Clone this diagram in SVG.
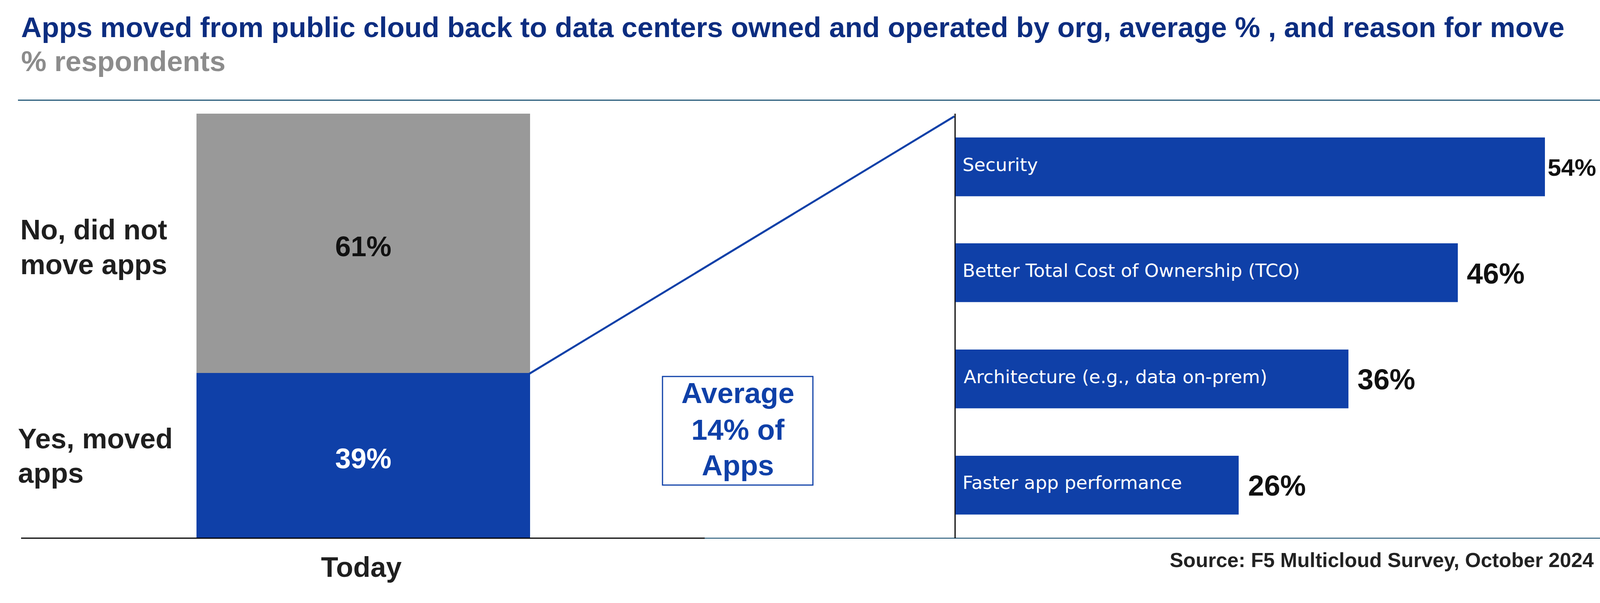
<svg xmlns="http://www.w3.org/2000/svg" width="4216" height="1544" viewBox="0 0 4216 1544">
<style>
.title{font-family:"Liberation Sans",Arial,sans-serif;font-weight:bold;font-size:73px;fill:#0c2d80}
.sub{font-family:"Liberation Sans",Arial,sans-serif;font-weight:bold;font-size:73px;fill:#8c8c8c}
.lbl{font-family:"Liberation Sans",Arial,sans-serif;font-weight:bold;font-size:72px;fill:#1f1f1f}
.num{font-family:"Liberation Sans",Arial,sans-serif;font-weight:bold;font-size:72px;text-anchor:middle}
.pct{font-family:"Liberation Sans",Arial,sans-serif;font-weight:bold;font-size:74px;fill:#111111}
.pct-s{font-size:62px}
.bartxt{font-family:"DejaVu Sans","Liberation Sans",sans-serif;font-size:47px;fill:#ffffff}
.avg{font-family:"Liberation Sans",Arial,sans-serif;font-weight:bold;font-size:74px;fill:#0f40a8;text-anchor:middle}
.src{font-family:"Liberation Sans",Arial,sans-serif;font-weight:bold;font-size:52px;fill:#222222;text-anchor:end}
.bar{fill:#0f40a8}
</style>
<rect width="4216" height="1544" fill="#ffffff"/>
<g id="header">
<text class="title" x="54" y="95">Apps moved from public cloud back to data centers owned and operated by org, average % , and reason for move</text>
<text class="sub" x="54" y="182">% respondents</text>
<line x1="46" y1="256.5" x2="4155" y2="256.5" stroke="#003d62" stroke-width="2.5"/>
</g>
<g id="stacked-bar">
<rect x="503" y="291" width="854" height="664" fill="#999999"/>
<rect x="503" y="955" width="854" height="423" class="bar"/>
<text class="num" x="930" y="656" fill="#111111">61%</text>
<text class="num" x="930" y="1199" fill="#ffffff">39%</text>
<text class="lbl" x="52" y="613">No, did not</text>
<text class="lbl" x="52" y="702">move apps</text>
<text class="lbl" x="46" y="1148">Yes, moved</text>
<text class="lbl" x="46" y="1236">apps</text>
<text class="lbl" x="925" y="1477" text-anchor="middle" fill="#111111">Today</text>
</g>
<g id="connectors">
<line x1="1355" y1="957" x2="2443" y2="298" stroke="#0f40a8" stroke-width="5"/>
<line x1="54" y1="1378" x2="1804" y2="1378" stroke="#000000" stroke-width="3"/>
<line x1="1804" y1="1378" x2="4170" y2="1378" stroke="#003d62" stroke-width="2"/>
<line x1="2445" y1="291" x2="2445" y2="1378" stroke="#000000" stroke-width="3"/>
</g>
<g id="average-box">
<rect x="1696" y="964" width="385" height="278" fill="#ffffff" stroke="#0f40a8" stroke-width="3"/>
<text class="avg" x="1889" y="1032">Average</text>
<text class="avg" x="1889" y="1126">14% of</text>
<text class="avg" x="1889" y="1217">Apps</text>
</g>
<g id="bar-security">
<rect class="bar" x="2446" y="352" width="1509" height="150.5"/>
<text class="bartxt" x="2464" y="437.5">Security</text>
<text class="pct pct-s" x="3962" y="450">54%</text>
</g>
<g id="bar-tco">
<rect class="bar" x="2446" y="623" width="1286" height="150.5"/>
<text class="bartxt" x="2464" y="709">Better Total Cost of Ownership (TCO)</text>
<text class="pct" x="3755" y="726">46%</text>
</g>
<g id="bar-architecture">
<rect class="bar" x="2446" y="895" width="1006" height="150.5"/>
<text class="bartxt" x="2467" y="980.5">Architecture (e.g., data on-prem)</text>
<text class="pct" x="3475" y="997">36%</text>
</g>
<g id="bar-performance">
<rect class="bar" x="2446" y="1167" width="725" height="150.5"/>
<text class="bartxt" x="2464" y="1252">Faster app performance</text>
<text class="pct" x="3195" y="1269">26%</text>
</g>
<g id="footer">
<text class="src" x="4080" y="1452">Source: F5 Multicloud Survey, October 2024</text>
</g>
</svg>
